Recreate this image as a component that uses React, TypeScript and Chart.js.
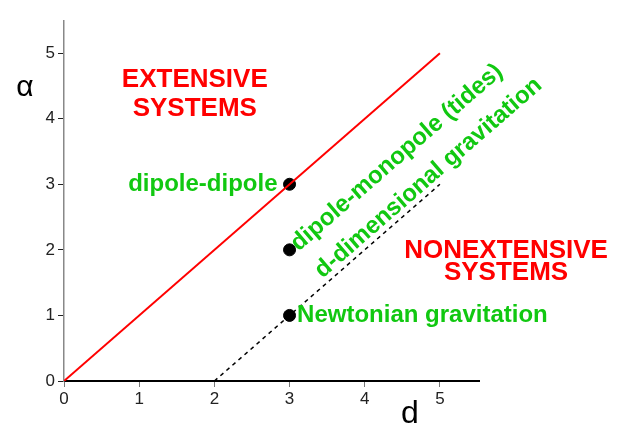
import React, { useEffect, useRef } from "react";
import { Chart, registerables } from "chart.js";

Chart.register(...registerables);

// Data
const extensiveD = [0, 5];
const extensiveAlpha = [0, 5];
const nonextensiveD = [2, 5];
const nonextensiveAlpha = [0, 3];
const pointD = [3, 3, 3];
const pointAlpha = [3, 2, 1];
const xTicks = [0, 1, 2, 3, 4, 5];
const yTicks = [0, 1, 2, 3, 4, 5];

const RED = "#ff0000";
const GREEN = "#11c811";
const FONT = "'Liberation Sans', Arial, sans-serif";

type Label = { text: string; d: number; a: number; color: string; align: CanvasTextAlign; rot: number; size: number; bold: boolean };
const labels: Label[] = [
  { text: "EXTENSIVE", d: 1.74, a: 4.6, color: RED, align: "center", rot: 0, size: 26, bold: true },
  { text: "SYSTEMS", d: 1.74, a: 4.15, color: RED, align: "center", rot: 0, size: 26, bold: true },
  { text: "NONEXTENSIVE", d: 5.88, a: 1.99, color: RED, align: "center", rot: 0, size: 26, bold: true },
  { text: "SYSTEMS", d: 5.88, a: 1.65, color: RED, align: "center", rot: 0, size: 26, bold: true },
  { text: "dipole-dipole", d: 2.84, a: 3, color: GREEN, align: "right", rot: 0, size: 24, bold: true },
  { text: "Newtonian gravitation", d: 3.1, a: 1, color: GREEN, align: "left", rot: 0, size: 24, bold: true },
  { text: "dipole-monopole (tides)", d: 3.12, a: 1.97, color: GREEN, align: "left", rot: -41, size: 24, bold: true },
  { text: "d-dimensional gravitation", d: 3.44, a: 1.56, color: GREEN, align: "left", rot: -41, size: 24, bold: true },
];

const textPlugin = {
  id: "texts",
  afterDatasetsDraw(chart: any) {
    const ctx = chart.ctx as CanvasRenderingContext2D;
    const xs = chart.scales.x;
    const ys = chart.scales.y;
    ctx.save();
    for (const l of labels) {
      const px = xs.getPixelForValue(l.d);
      const py = ys.getPixelForValue(l.a);
      ctx.save();
      ctx.translate(px, py);
      ctx.rotate((l.rot * Math.PI) / 180);
      ctx.font = `${l.bold ? "bold " : ""}${l.size}px ${FONT}`;
      ctx.fillStyle = l.color;
      ctx.textAlign = l.align;
      ctx.textBaseline = l.rot === 0 ? "middle" : "alphabetic";
      ctx.fillText(l.text, 0, 0);
      ctx.restore();
    }
    // axis titles
    ctx.fillStyle = "#000";
    ctx.textAlign = "center";
    ctx.textBaseline = "alphabetic";
    ctx.font = `30px ${FONT}`;
    ctx.fillText("α", chart.chartArea.left - 39, ys.getPixelForValue(4.35));
    ctx.font = `32px ${FONT}`;
    ctx.fillText("d", xs.getPixelForValue(4.6), chart.chartArea.bottom + 42);
    ctx.restore();
  },
};

export default function App() {
  const ref = useRef<HTMLCanvasElement>(null);
  useEffect(() => {
    if (!ref.current) return;
    const chart = new Chart(ref.current, {
      type: "scatter",
      data: {
        datasets: [
          {
            data: extensiveD.map((d, i) => ({ x: d, y: extensiveAlpha[i] })),
            showLine: true,
            borderColor: RED,
            borderWidth: 2,
            pointRadius: 0,
          },
          {
            data: nonextensiveD.map((d, i) => ({ x: d, y: nonextensiveAlpha[i] })),
            showLine: true,
            borderColor: "#000",
            borderWidth: 1.5,
            borderDash: [4, 4],
            pointRadius: 0,
          },
          {
            data: pointD.map((d, i) => ({ x: d, y: pointAlpha[i] })),
            showLine: false,
            backgroundColor: "#000",
            borderColor: "#000",
            borderWidth: 1,
            pointRadius: 6,
          },
        ],
      },
      options: {
        responsive: false,
        animation: false,
        layout: { padding: { top: 21, right: 148, left: 0, bottom: 0 } },
        plugins: { legend: { display: false }, tooltip: { enabled: false } },
        scales: {
          x: {
            type: "linear",
            min: 0,
            max: 5.52,
            afterBuildTicks: (s: any) => {
              s.ticks = xTicks.map((v) => ({ value: v }));
            },
            afterFit: (s: any) => {
              s.height = 48;
            },
            grid: { drawOnChartArea: false, drawTicks: true, tickLength: 6, color: "#777", lineWidth: 1 },
            border: { display: true, color: "#000", width: 2 },
            ticks: { color: "#222", font: { family: FONT, size: 17 }, padding: 2 },
          },
          y: {
            type: "linear",
            min: 0,
            max: 5.49,
            afterBuildTicks: (s: any) => {
              s.ticks = yTicks.map((v) => ({ value: v }));
            },
            afterFit: (s: any) => {
              s.width = 64;
            },
            grid: { drawOnChartArea: false, drawTicks: true, tickLength: 6, color: "#222", lineWidth: 1 },
            border: { display: true, color: "#888", width: 1.5 },
            ticks: { color: "#222", font: { family: FONT, size: 17 }, padding: 3 },
          },
        },
      },
      plugins: [textPlugin],
    });
    return () => chart.destroy();
  }, []);
  return (
    <div style={{ position: "fixed", left: 0, top: 0, width: 627, height: 429, background: "#fff" }}>
      <canvas ref={ref} width={627} height={429} />
    </div>
  );
}
